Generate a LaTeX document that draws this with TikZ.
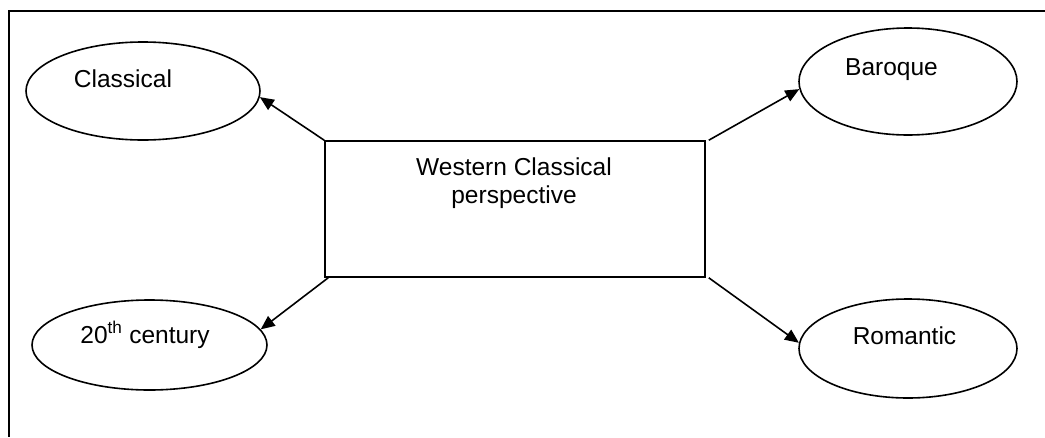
\documentclass[tikz,border=0pt]{standalone}
\usepackage{fontspec}
\setmainfont{Liberation Sans}
\usetikzlibrary{shapes.geometric,arrows.meta}
\begin{document}
\begin{tikzpicture}[x=1pt,y=-1pt,line width=1.6pt,
  oval/.style={draw,ellipse,inner sep=0pt},
  lbl/.style={anchor=base,inner sep=0pt,font=\fontsize{24.5}{28}\selectfont},
  conn/.style={-{Triangle[length=14pt,width=12pt]}}]
\useasboundingbox (0,0) rectangle (1045,437);
\draw (1045,11) -- (9,11) -- (9,437);
\node[draw,rectangle,minimum width=380pt,minimum height=136pt,inner sep=0pt] (box) at (515,209) {};
\node[lbl] (t1) at (514,175) {Western Classical};
\node[lbl] (t2) at (514,203) {perspective};
\node[oval,minimum width=234pt,minimum height=98pt] (cl) at (143,91) {};
\node[lbl] (cltext) at (123,87) {Classical};
\node[oval,minimum width=218pt,minimum height=107pt] (ba) at (908,81.5) {};
\node[lbl] (batext) at (891.5,75) {Baroque};
\node[oval,minimum width=235pt,minimum height=90pt] (tc) at (149.5,345) {};
\node[lbl] (tctext) at (145,343) {20\textsuperscript{th} century};
\node[oval,minimum width=218pt,minimum height=99pt] (ro) at (908,348.5) {};
\node[lbl] (rotext) at (904.5,344) {Romantic};
\draw[conn] (box.north west) -- (cl.-3);
\draw[conn] ([xshift=3pt]box.north east) -- (ba.184);
\draw[conn] ([xshift=4pt]box.south west) -- (tc.8);
\draw[conn] ([xshift=3pt]box.south east) -- (ro.177);
\end{tikzpicture}
\end{document}
